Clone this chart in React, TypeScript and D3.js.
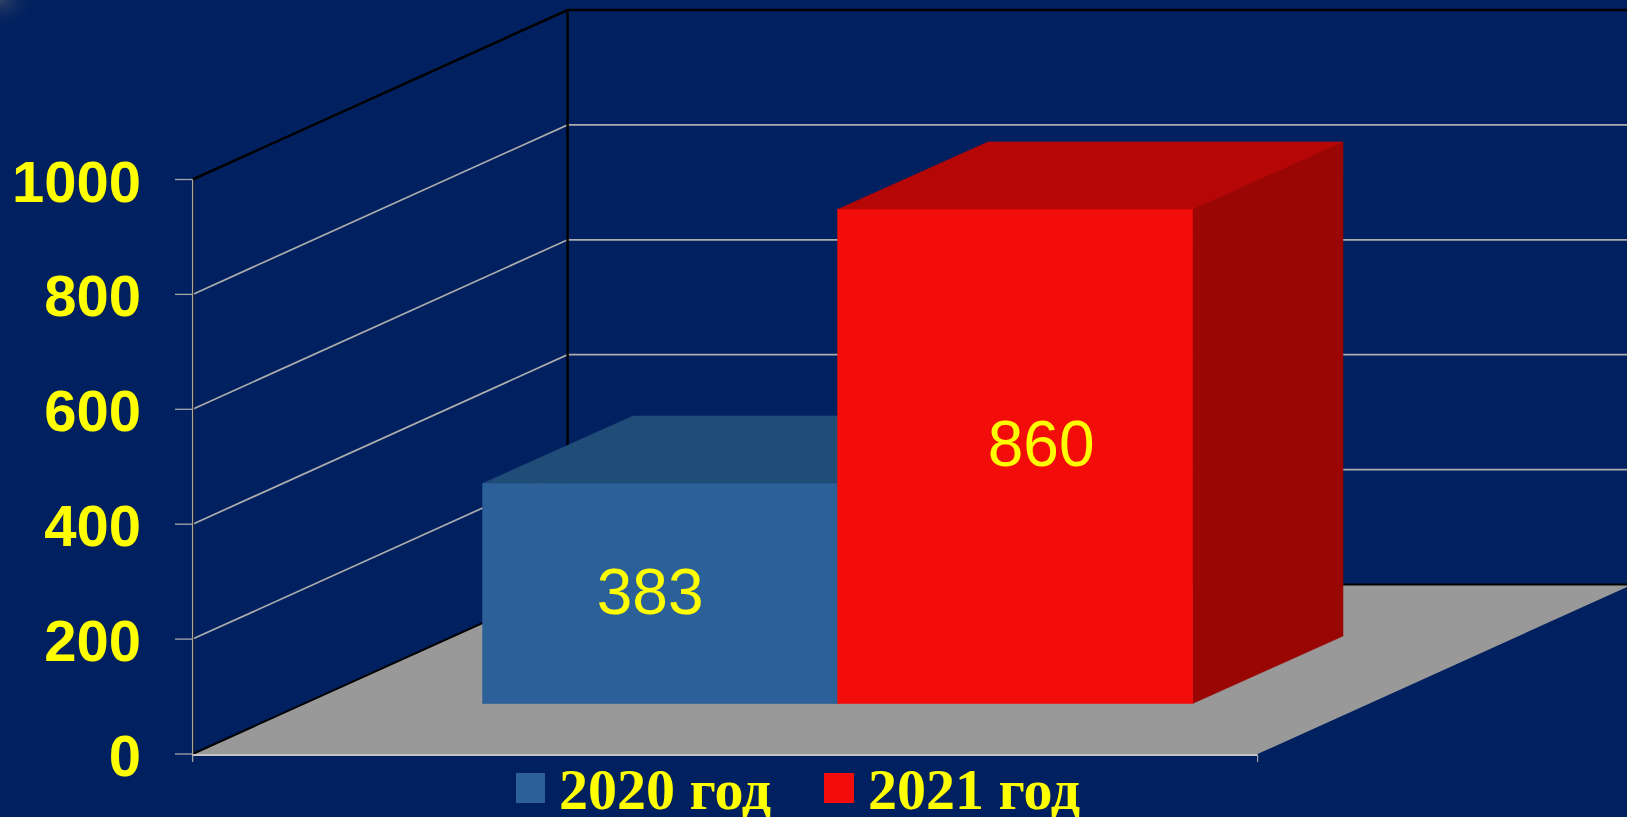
import React from "react";
import * as d3 from "d3";

const categories = ["2020 год", "2021 год"];
const values = [383, 860];
const yTicks = [0, 200, 400, 600, 800, 1000];
const frontColors = ["#2c6098", "#f20d0b"];
const topColors = ["#204c78", "#b50705"];
const sideColors = ["#1a3f66", "#990603"];
const legendSwatchX = [516, 824];
const legendSwatchW = [29, 30];
const legendTextX = [559, 868];

const W = 1627, H = 817;
const depthX = 375, depthY = -169.5;
const barXDepth = [0.3, 0.701];
const barYDepth = [0.298, 0.696];
const labelDx = [-10, 26];
const labelDy = [131, 257];

const y = d3.scaleLinear().domain([0, 1000]).range([754, 179.5]);
const x = d3.scaleLinear().domain([0, 1]).range([192.6, 1257.6]);
const band = d3.scaleBand<string>().domain(categories).range([0, 1]).paddingInner(0).paddingOuter(0.5);

// projects (category fraction, value, depth fraction) onto the oblique view
const P = (fx: number, v: number, d: number, dy: number = d): [number, number] => [x(fx) + d * depthX, y(v) + dy * depthY];
const poly = d3.line<[number, number]>();

const AXIS = "#a6a6a6";
const YEL = "#ffff00";
const sans = "'Liberation Sans', Arial, sans-serif";
const serif = "'Liberation Serif', 'Times New Roman', serif";

export default function App() {
  const floor = [P(0, 0, 0), P(1, 0, 0), P(1, 0, 1), P(0, 0, 1)];
  return (
    <svg width={W} height={H} viewBox={`0 0 ${W} ${H}`} style={{ position: "fixed", left: 0, top: 0, display: "block" }}>
      <defs>
        <radialGradient id="corner" cx="0" cy="0" r="1">
          <stop offset="0" stopColor="#2f4066" />
          <stop offset="1" stopColor="#00205f" stopOpacity="0" />
        </radialGradient>
      </defs>
      <rect width={W} height={H} fill="#00205f" />
      <rect width={40} height={30} fill="url(#corner)" />

      {yTicks.map((t) => {
        const top = t === 1000;
        if (t === 0) return null;
        const a = P(0, t, 0), b = P(0, t, 1), c = P(1, t, 1);
        return (
          <path key={t} d={poly([a, b, c]) ?? ""} fill="none" stroke={top ? "#000" : "#adadad"} strokeWidth={top ? 2.5 : 1.7} />
        );
      })}
      <path d={poly([P(0, 0, 1), P(0, 1000, 1)]) ?? ""} stroke="#000" strokeWidth={2.5} fill="none" />
      <path d={poly([P(0, 0, 0), P(0, 1000, 0)]) ?? ""} stroke="#000" strokeWidth={1} fill="none" transform="translate(1,0)" />

      <path d={(poly(floor) ?? "") + "Z"} fill="#999999" />
      <path d={poly([P(0, 0, 0), P(0, 0, 1), P(1, 0, 1)]) ?? ""} stroke="#000" strokeWidth={2} fill="none" />

      <line x1={x(0)} x2={x(0)} y1={y(1000)} y2={762} stroke={AXIS} strokeWidth={1.3} />
      <line x1={x(0)} x2={x(1)} y1={755} y2={755} stroke="#c4c4c4" strokeWidth={2} />
      <line x1={x(1)} x2={x(1)} y1={755} y2={762} stroke={AXIS} strokeWidth={1.2} />
      {yTicks.map((t) => (
        <line key={t} x1={175} x2={x(0)} y1={y(t)} y2={y(t)} stroke={AXIS} strokeWidth={1.3} />
      ))}
      {yTicks.map((t) => (
        <text key={t} x={141} y={y(t) + 22} textAnchor="end" fontFamily={sans} fontWeight="bold" fontSize={58} fill={YEL}>
          {t}
        </text>
      ))}

      {categories.map((c, i) => {
        const l = band(c) as number;
        const r = l + band.bandwidth();
        const v = values[i];
        const [d0, d1] = barXDepth;
        const [e0, e1] = barYDepth;
        const front = [P(l, 0, d0, e0), P(r, 0, d0, e0), P(r, v, d0, e0), P(l, v, d0, e0)];
        const top = [P(l, v, d0, e0), P(r, v, d0, e0), P(r, v, d1, e1), P(l, v, d1, e1)];
        const side = [P(r, 0, d0, e0), P(r, 0, d1, e1), P(r, v, d1, e1), P(r, v, d0, e0)];
        return (
          <g key={c} strokeWidth={0.6}>
            <path d={(poly(side) ?? "") + "Z"} fill={sideColors[i]} stroke={sideColors[i]} />
            <path d={(poly(top) ?? "") + "Z"} fill={topColors[i]} stroke={topColors[i]} />
            <path d={(poly(front) ?? "") + "Z"} fill={frontColors[i]} stroke={frontColors[i]} />
          </g>
        );
      })}
      {categories.map((c, i) => {
        const l = band(c) as number;
        const [cx, cy] = P(l + band.bandwidth() / 2, values[i], barXDepth[0], barYDepth[0]);
        return (
          <text key={c} x={cx + labelDx[i]} y={cy + labelDy[i]} textAnchor="middle" fontFamily={sans} fontSize={64} fill={YEL}>
            {values[i]}
          </text>
        );
      })}

      {categories.map((c, i) => (
        <g key={c}>
          <rect x={legendSwatchX[i]} y={773} width={legendSwatchW[i]} height={30} fill={frontColors[i]} />
          <text x={legendTextX[i]} y={809} fontFamily={serif} fontWeight="bold" fontSize={58} fill={YEL}>
            {c}
          </text>
        </g>
      ))}
    </svg>
  );
}
